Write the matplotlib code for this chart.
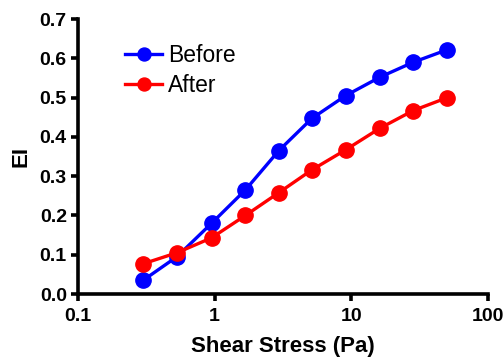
import matplotlib
matplotlib.use("Agg")
import matplotlib.pyplot as plt
import matplotlib.ticker as ticker

plt.rcParams['font.family'] = ['Liberation Sans', 'DejaVu Sans']

# data
stress = [0.30, 0.53, 0.95, 1.68, 2.95, 5.15, 9.1, 16.2, 28.4, 50.5]
ei_before = [0.035, 0.095, 0.180, 0.265, 0.365, 0.447, 0.505, 0.552, 0.590, 0.622]
ei_after = [0.077, 0.105, 0.143, 0.200, 0.258, 0.316, 0.367, 0.422, 0.467, 0.500]
xticks = [0.1, 1, 10, 100]
xtick_labels = ["0.1", "1", "10", "100"]
yticks = [0.0, 0.1, 0.2, 0.3, 0.4, 0.5, 0.6, 0.7]

fig = plt.figure(figsize=(5.03, 3.59), dpi=100)
ax = fig.add_axes([0.155, 0.181, 0.815, 0.766])

ax.plot(stress, ei_before, color="#0000ff", marker="o", markersize=11, linewidth=2.4, label="Before", clip_on=False)
ax.plot(stress, ei_after, color="#ff0000", marker="o", markersize=11, linewidth=2.4, label="After", clip_on=False)

ax.set_xscale("log")
ax.set_xlim(0.1, 100)
ax.set_ylim(0, 0.7)
ax.xaxis.set_major_locator(ticker.FixedLocator(xticks))
ax.xaxis.set_major_formatter(ticker.FixedFormatter(xtick_labels))
ax.xaxis.set_minor_locator(ticker.NullLocator())
ax.set_yticks(yticks)
ax.set_yticklabels([f"{v:.1f}" for v in yticks])

for s in ["top", "right"]:
    ax.spines[s].set_visible(False)
for s in ["left", "bottom"]:
    ax.spines[s].set_linewidth(2.6)
ax.tick_params(width=2.6, length=5, labelsize=14, direction="out", pad=3)
ax.tick_params(axis="x", pad=5)
for lab in ax.get_xticklabels() + ax.get_yticklabels():
    lab.set_fontweight("bold")

ax.set_xlabel("Shear Stress (Pa)", fontsize=16, fontweight="bold", labelpad=8)
ax.set_ylabel("EI", fontsize=16, fontweight="bold", labelpad=6)

ax.legend(loc="upper left", bbox_to_anchor=(0.065, 0.985), frameon=False, fontsize=16.5,
          handlelength=1.6, handletextpad=0.25, labelspacing=0.3, markerscale=0.85)

fig.savefig("out.png", dpi=100)
